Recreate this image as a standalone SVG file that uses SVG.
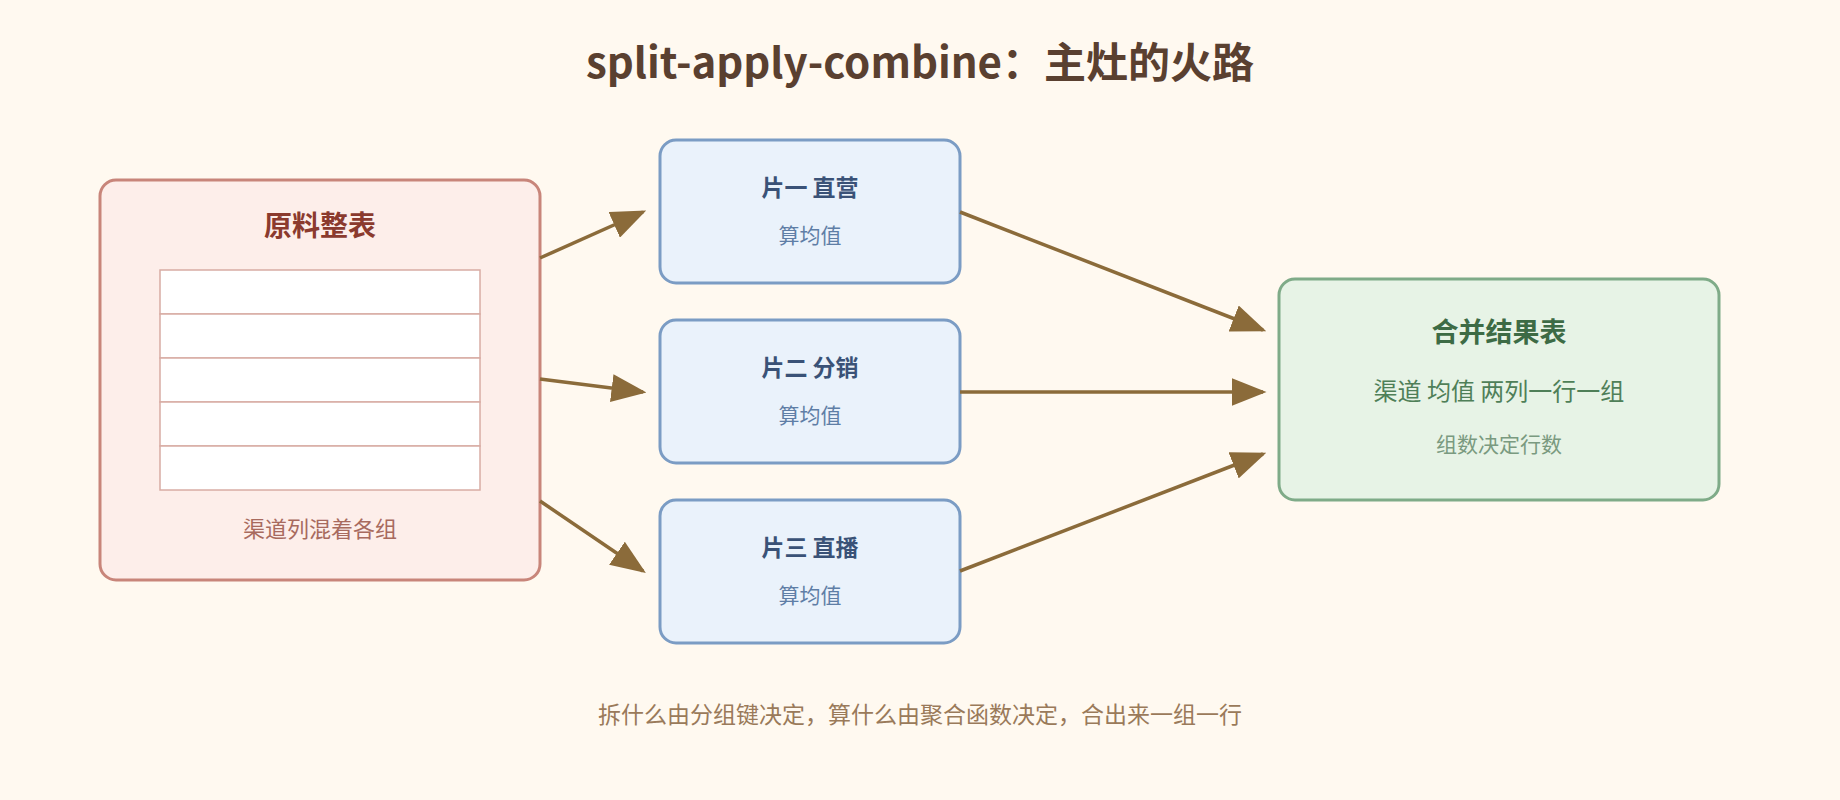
<svg xmlns="http://www.w3.org/2000/svg" width="1840" height="800" viewBox="0 0 1840 800">
<style>
text{font-family:"Noto Sans CJK SC","Noto Sans",sans-serif;text-anchor:middle}
.mid rect{fill:#eaf2fb;stroke:#7b9cc4;stroke-width:3}
.mt{font-size:23px;font-weight:bold;fill:#3a5277}
.ms{font-size:21px;fill:#5f7ea6}
.c line{stroke:#8b6b3a;stroke-width:3.5}
.row{fill:#fff;stroke:#d8aca4;stroke-width:1.5}
</style>
<defs><marker id="a" markerWidth="10" markerHeight="8" refX="9" refY="4" orient="auto" markerUnits="strokeWidth"><path d="M0,0 L10,4 L0,8 z" fill="#8b6b3a"/></marker></defs>
<rect width="1840" height="800" fill="#fff9f0"/>
<text x="920" y="78" font-size="42" font-weight="bold" fill="#5a4030">split-apply-combine：主灶的火路</text>
<g id="source">
<rect x="100" y="180" width="440" height="400" rx="16" fill="#fdeeea" stroke="#c8857a" stroke-width="3"/>
<text x="320" y="236" font-size="28" font-weight="bold" fill="#8b3a2e">原料整表</text>
<rect class="row" x="160" y="270" width="320" height="44"/>
<rect class="row" x="160" y="314" width="320" height="44"/>
<rect class="row" x="160" y="358" width="320" height="44"/>
<rect class="row" x="160" y="402" width="320" height="44"/>
<rect class="row" x="160" y="446" width="320" height="44"/>
<text x="320" y="537" font-size="22" fill="#a86a5e">渠道列混着各组</text>
</g>
<g id="s1" class="mid"><rect x="660" y="140" width="300" height="143" rx="16"/><text class="mt" x="810" y="196">片一 直营</text><text class="ms" x="810" y="243">算均值</text></g>
<g id="s2" class="mid"><rect x="660" y="320" width="300" height="143" rx="16"/><text class="mt" x="810" y="376">片二 分销</text><text class="ms" x="810" y="423">算均值</text></g>
<g id="s3" class="mid"><rect x="660" y="500" width="300" height="143" rx="16"/><text class="mt" x="810" y="556">片三 直播</text><text class="ms" x="810" y="603">算均值</text></g>
<g id="result">
<rect x="1279" y="279" width="440" height="221" rx="16" fill="#e7f3e6" stroke="#7fab88" stroke-width="3"/>
<text x="1499" y="342" font-size="27" font-weight="bold" fill="#3d6b45">合并结果表</text>
<text x="1499" y="400" font-size="24" fill="#4f7f58">渠道 均值 两列一行一组</text>
<text x="1499" y="452" font-size="21" fill="#7a9a80">组数决定行数</text>
</g>
<g class="c">
<line x1="540" y1="258" x2="643" y2="212" marker-end="url(#a)"/>
<line x1="540" y1="379" x2="643" y2="392" marker-end="url(#a)"/>
<line x1="540" y1="501" x2="643" y2="571" marker-end="url(#a)"/>
<line x1="960" y1="212" x2="1263" y2="330" marker-end="url(#a)"/>
<line x1="960" y1="392" x2="1263" y2="392" marker-end="url(#a)"/>
<line x1="960" y1="571" x2="1263" y2="454" marker-end="url(#a)"/>
</g>
<text x="920" y="723" font-size="23" fill="#9a7a5a">拆什么由分组键决定，算什么由聚合函数决定，合出来一组一行</text>
</svg>
